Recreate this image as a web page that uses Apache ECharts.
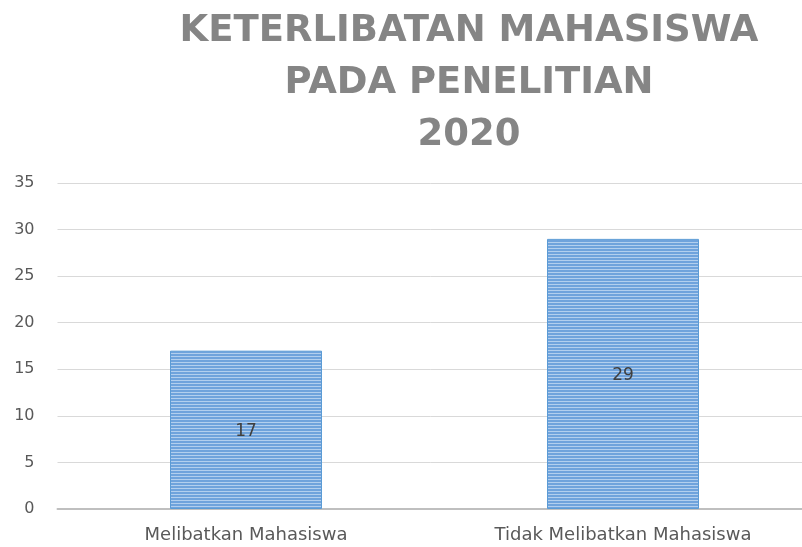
<!DOCTYPE html>
<html>
<head>
<meta charset="utf-8">
<script src="https://cdn.jsdelivr.net/npm/echarts@6/dist/echarts.min.js"></script>
<style>html,body{margin:0;padding:0;background:#fff;}#c{width:802px;height:547px;}</style>
</head>
<body>
<div id="c"></div>
<script>
const titleLines = ['KETERLIBATAN MAHASISWA', 'PADA PENELITIAN', '2020'];
const categories = ['Melibatkan Mahasiswa', 'Tidak Melibatkan Mahasiswa'];
const values = [17, 29];
const yTicks = { min: 0, max: 35, interval: 5 };

// striped fill pattern
const pat = document.createElement('canvas');
pat.width = 4; pat.height = 3;
const g = pat.getContext('2d');
g.fillStyle = '#6fa3dc'; g.fillRect(0, 0, 4, 3);
g.fillStyle = '#b2cfee'; g.fillRect(0, 2, 4, 1);

const chart = echarts.init(document.getElementById('c'), null, { renderer: 'canvas' });
chart.setOption({
  animation: false,
  backgroundColor: '#ffffff',
  title: {
    text: titleLines.join('\n'),
    left: 464, top: 0, textAlign: 'center',
    textStyle: { fontFamily: 'DejaVu Sans', fontWeight: 'bold', fontSize: 37, lineHeight: 52, color: '#858585' }
  },
  grid: { left: 57.5, right: -9.5, top: 183, bottom: 38, containLabel: false, outerBoundsMode: 'none' },
  xAxis: {
    type: 'category', data: categories,
    axisLine: { show: true, lineStyle: { color: '#bfbfbf', width: 2 } },
    axisTick: { show: false },
    axisLabel: { color: '#595959', fontFamily: 'DejaVu Sans', fontSize: 18, margin: 17 }
  },
  yAxis: {
    type: 'value', min: yTicks.min, max: yTicks.max, interval: yTicks.interval,
    axisLine: { show: false }, axisTick: { show: false },
    splitLine: { lineStyle: { color: '#d9d9d9', width: 1 } },
    axisLabel: { color: '#595959', fontFamily: 'DejaVu Sans', fontSize: 16, margin: 23 }
  },
  series: [{
    type: 'bar', data: values, barWidth: 152,
    itemStyle: { color: { image: pat, repeat: 'repeat' }, borderColor: '#5b9bd5', borderWidth: 1 },
    label: { show: true, position: 'inside', color: '#404040', fontFamily: 'DejaVu Sans', fontSize: 17, offset: [0, 2] }
  }]
});
</script>
</body>
</html>
